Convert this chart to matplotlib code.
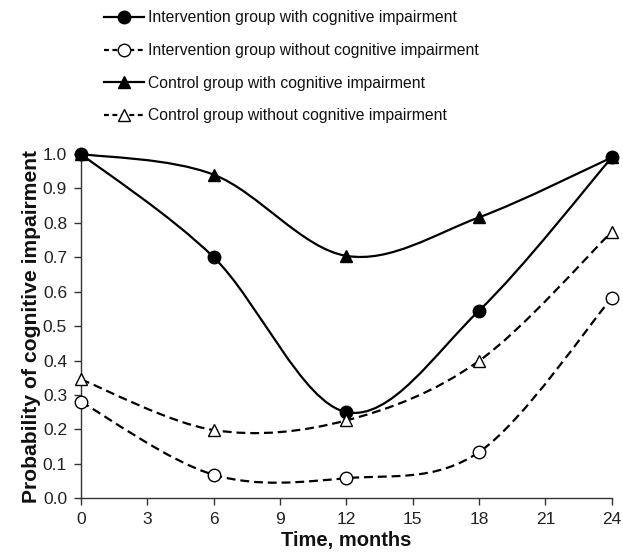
import matplotlib
matplotlib.use("Agg")
import matplotlib.pyplot as plt
from matplotlib.path import Path
from matplotlib.patches import PathPatch
from matplotlib.lines import Line2D
from matplotlib import font_manager

months = [0, 6, 12, 18, 24]
interv_ci = [1.00, 0.70, 0.25, 0.545, 0.99]
interv_no_ci = [0.28, 0.068, 0.058, 0.134, 0.582]
control_ci = [1.00, 0.94, 0.704, 0.816, 0.99]
control_no_ci = [0.345, 0.198, 0.226, 0.399, 0.774]

labels = [
    "Intervention group with cognitive impairment",
    "Intervention group without cognitive impairment",
    "Control group with cognitive impairment",
    "Control group without cognitive impairment",
]
xticks = [0, 3, 6, 9, 12, 15, 18, 21, 24]
yticks = [0.0, 0.1, 0.2, 0.3, 0.4, 0.5, 0.6, 0.7, 0.8, 0.9, 1.0]

names = {f.name for f in font_manager.fontManager.ttflist}
narrow = "Liberation Sans Narrow" if "Liberation Sans Narrow" in names else None
plt.rcParams["font.family"] = ["Liberation Sans", "DejaVu Sans"]

fig = plt.figure(figsize=(6.23, 5.56), dpi=100)
ax = fig.add_axes([0.130, 0.104, 0.852, 0.619])


def smooth_path(xs, ys):
    # Catmull-Rom style Bezier smoothing through the data points
    pts = list(zip(xs, ys))
    n = len(pts)
    verts = [pts[0]]
    codes = [Path.MOVETO]
    for i in range(n - 1):
        p0 = pts[i - 1] if i > 0 else pts[i]
        p1 = pts[i]
        p2 = pts[i + 1]
        p3 = pts[i + 2] if i + 2 < n else pts[i + 1]
        c1 = (p1[0] + (p2[0] - p0[0]) / 6.0, p1[1] + (p2[1] - p0[1]) / 6.0)
        c2 = (p2[0] - (p3[0] - p1[0]) / 6.0, p2[1] - (p3[1] - p1[1]) / 6.0)
        verts += [c1, c2, p2]
        codes += [Path.CURVE4] * 3
    return Path(verts, codes)


dash = (0, (4, 2.2))
series = [
    (interv_ci, "-", "o", "black", 9),
    (interv_no_ci, dash, "o", "white", 9),
    (control_ci, "-", "^", "black", 9),
    (control_no_ci, dash, "^", "white", 9),
]

handles = []
for (vals, ls, mk, fc, ms), lab in zip(series, labels):
    patch = PathPatch(smooth_path(months, vals), facecolor="none", edgecolor="black",
                      linewidth=1.6, linestyle=ls, zorder=2, clip_on=False)
    ax.add_patch(patch)
    ax.plot(months, vals, linestyle="none", marker=mk, markersize=ms,
            markerfacecolor=fc, markeredgecolor="black", markeredgewidth=1.0,
            zorder=3, clip_on=False)
    hls = (0, (2.2, 1.6)) if ls != "-" else "-"
    handles.append(Line2D([], [], color="black", linestyle=hls, linewidth=1.6,
                          marker=mk, markersize=ms, markerfacecolor=fc,
                          markeredgecolor="black", markeredgewidth=1.0))

ax.set_xlim(0, 24)
ax.set_ylim(0, 1.0)
ax.set_xticks(xticks)
ax.set_xticklabels([str(t) for t in xticks])
ax.set_yticks(yticks)
ax.set_yticklabels([f"{t:.1f}" for t in yticks])
for s in ["top", "right"]:
    ax.spines[s].set_visible(False)
for s in ["left", "bottom"]:
    ax.spines[s].set_linewidth(1.0)
    ax.spines[s].set_color("#333333")
ax.tick_params(axis="both", direction="out", length=5, width=1.0, color="#333333",
               labelsize=12.5, colors="#222222")
ax.tick_params(axis="x", pad=5)
ax.tick_params(axis="y", pad=5)
ax.set_xlabel("Time, months", fontsize=14.5, fontweight="bold", labelpad=3,
              color="#111111")
ax.set_ylabel("Probability of cognitive impairment", fontsize=15.2, fontweight="bold",
              labelpad=1, color="#111111")

prop = {"size": 12.5, "family": narrow} if narrow else {"size": 11.3}
leg = fig.legend(handles=handles, labels=labels, loc="upper left",
                 bbox_to_anchor=(0.150, 1.001), frameon=False,
                 prop=prop, handlelength=2.5, handletextpad=0.3,
                 labelspacing=1.12, borderaxespad=0.3)
for t in leg.get_texts():
    t.set_color("#111111")

fig.savefig("out.png", dpi=100)
